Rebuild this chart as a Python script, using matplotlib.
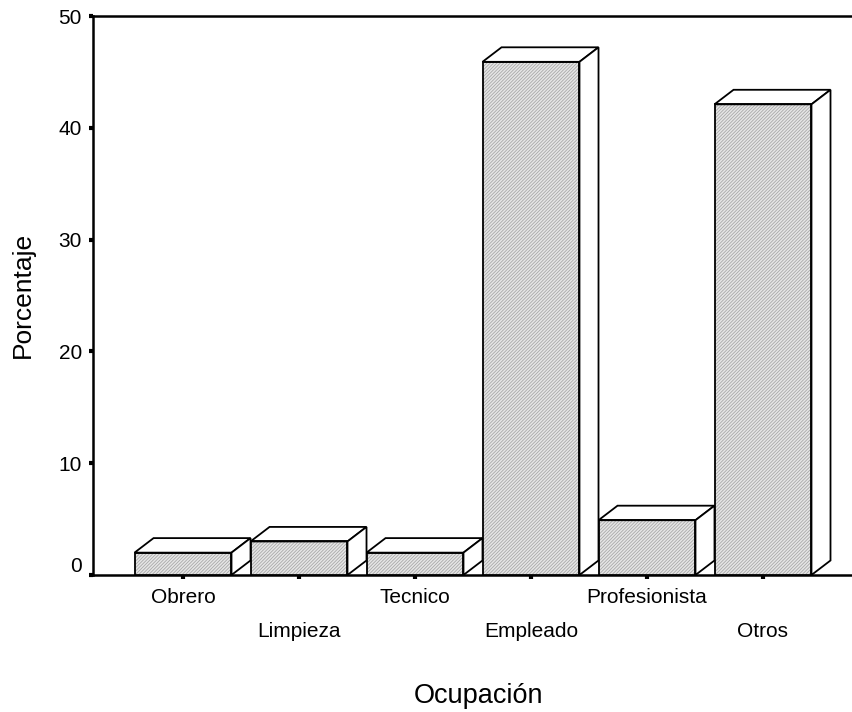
import numpy as np
import matplotlib.pyplot as plt
import matplotlib.transforms as mtransforms
from matplotlib.patches import Polygon, Rectangle

plt.rcParams['font.family'] = ['Liberation Sans', 'DejaVu Sans']
plt.rcParams['hatch.linewidth'] = 0.6

ocupaciones = ['Obrero', 'Limpieza', 'Tecnico', 'Empleado', 'Profesionista', 'Otros']
porcentaje = [2.0, 3.0, 2.0, 45.9, 4.9, 42.1]
yticks = [0, 10, 20, 30, 40, 50]

ancho = 0.836
dx, dy = 0.164, 1.3   # profundidad del efecto 3D

fig = plt.figure(figsize=(8.53, 7.12), dpi=100)
ax = fig.add_axes([93 / 853, 1 - 575 / 712, 1 - 93 / 853, (575 - 16) / 712])

x = np.arange(len(ocupaciones))
for xi, v in zip(x, porcentaje):
    x0, x1 = xi - ancho / 2, xi + ancho / 2
    # cara frontal con trama fina gris
    ax.add_patch(Rectangle((x0, 0), ancho, v, facecolor='#e6e6e6', hatch='//////////',
                           edgecolor='#a8a8a8', linewidth=0, zorder=3))
    ax.add_patch(Rectangle((x0, 0), ancho, v, fill=False, edgecolor='black',
                           linewidth=1.3, zorder=4))
    tapa = Polygon([(x0, v), (x1, v), (x1 + dx, v + dy), (x0 + dx, v + dy)],
                   closed=True, facecolor='white', edgecolor='black', linewidth=1.3, zorder=3)
    lado = Polygon([(x1, 0), (x1 + dx, dy), (x1 + dx, v + dy), (x1, v)],
                   closed=True, facecolor='white', edgecolor='black', linewidth=1.3, zorder=3)
    ax.add_patch(tapa)
    ax.add_patch(lado)

ax.set_xlim(-0.776, 5.776)
ax.set_ylim(0, 50)

# etiquetas de categoría en dos filas alternadas
ax.set_xticks(x)
ax.set_xticklabels([])
for i, (xi, o) in enumerate(zip(x, ocupaciones)):
    desplaz = -16.5 if i % 2 == 0 else -41
    ax.annotate(o, xy=(xi, 0), xycoords=('data', 'axes fraction'),
                xytext=(0, desplaz), textcoords='offset points',
                ha='center', va='center', fontsize=15)

ax.set_yticks(yticks)
ax.set_yticklabels([str(t) for t in yticks], fontsize=15)
ax.tick_params(axis='both', direction='out', length=3, width=3)
ax.tick_params(axis='y', pad=5)

# subir un poco la etiqueta del 0
etq0 = ax.get_yticklabels()[0]
etq0.set_transform(etq0.get_transform() + mtransforms.ScaledTranslation(0, 11 / 100, fig.dpi_scale_trans))

for s in ['left', 'bottom', 'top']:
    ax.spines[s].set_linewidth(1.8)
ax.spines['right'].set_visible(False)

fig.text(23 / 853, 1 - 295 / 712, 'Porcentaje', rotation=90, ha='center', va='center', fontsize=19)
fig.text(479 / 853, 1 - 696 / 712, 'Ocupación', ha='center', va='center', fontsize=19.5)

fig.savefig('out.png', dpi=100)
